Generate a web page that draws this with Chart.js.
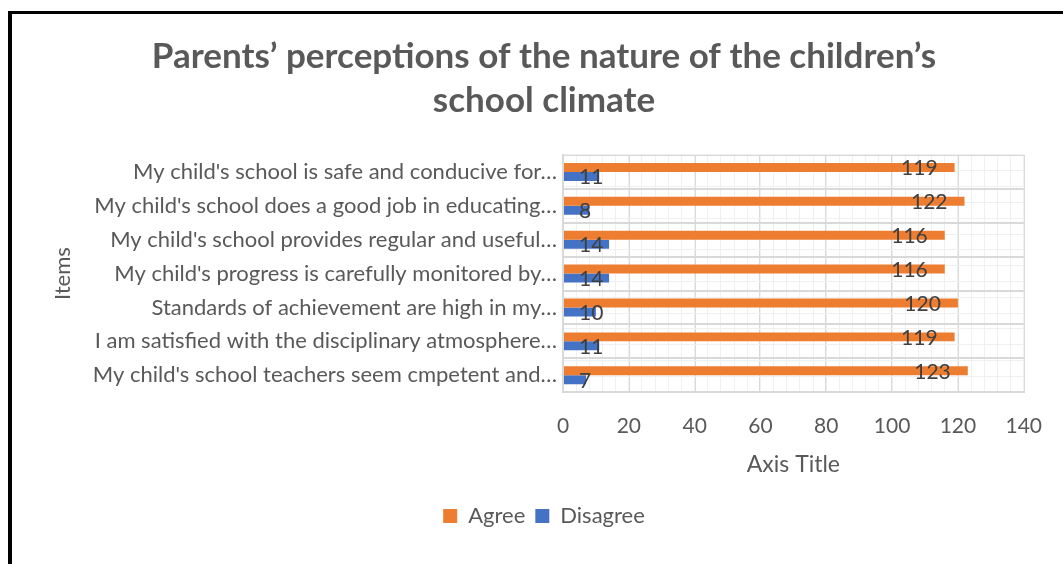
<!DOCTYPE html>
<html>
<head>
<meta charset="utf-8">
<script src="https://cdn.jsdelivr.net/npm/chart.js@4.4.0/dist/chart.umd.min.js"></script>
<style>
  html, body { margin: 0; padding: 0; background: #fff; overflow: hidden; }
  #frame {
    position: absolute; left: 8px; top: 11px; right: 0; bottom: 0;
    border-top: 3px solid #000; border-left: 4px solid #000;
  }
  canvas { display: block; }
</style>
</head>
<body>
<div id="frame"><canvas id="schoolChart" width="1051" height="550"></canvas></div>
<script>
const items = [
  "My child's school is safe and conducive for…",
  "My child's school does a good job in educating…",
  "My child's school provides regular and useful…",
  "My child's progress is carefully monitored by…",
  "Standards of achievement are high in my…",
  "I am satisfied with the disciplinary atmosphere…",
  "My child's school teachers seem cmpetent and…"
];
const agree = [119, 122, 116, 116, 120, 119, 123];
const disagree = [11, 8, 14, 14, 10, 11, 7];
const xTicks = [0, 20, 40, 60, 80, 100, 120, 140];

const FONT = 'Lato';
const TEXT = '#595959';

// value labels like excel's "inside end" ones
const valueLabels = {
  id: 'valueLabels',
  afterDatasetsDraw(chart) {
    const ctx = chart.ctx;
    ctx.save();
    ctx.font = '21px ' + FONT;
    ctx.fillStyle = '#404040';
    ctx.textBaseline = 'middle';
    chart.data.datasets.forEach((ds, i) => {
      const meta = chart.getDatasetMeta(i);
      meta.data.forEach((bar, j) => {
        const txt = String(ds.data[j]);
        if (i === 0) {
          ctx.textAlign = 'right';
          ctx.fillText(txt, bar.x - 17, bar.y + 1);
        } else {
          ctx.textAlign = 'left';
          ctx.fillText(txt, bar.base + 15, bar.y + 1);
        }
      });
    });
    ctx.restore();
  }
};

const ctx = document.getElementById('schoolChart').getContext('2d');
new Chart(ctx, {
  type: 'bar',
  data: {
    labels: items,
    datasets: [
      { label: 'Agree', data: agree, backgroundColor: '#ED7D31', categoryPercentage: 0.53, barPercentage: 1 },
      { label: 'Disagree', data: disagree, backgroundColor: '#4472C4', categoryPercentage: 0.53, barPercentage: 1 }
    ]
  },
  options: {
    indexAxis: 'y',
    responsive: false,
    animation: false,
    layout: { padding: { left: 28, right: 15, top: 0, bottom: 27 } },
    plugins: {
      title: {
        display: true,
        text: ["Parents’ perceptions of the nature of the children’s", 'school climate'],
        color: TEXT,
        font: { family: FONT, size: 35, weight: 'bold', lineHeight: 1.257 },
        padding: { top: 21, bottom: 32 }
      },
      legend: {
        position: 'bottom',
        labels: {
          color: TEXT,
          font: { family: FONT, size: 22 },
          boxWidth: 14, boxHeight: 14,
          padding: 10
        }
      },
      tooltip: { enabled: false }
    },
    scales: {
      x: {
        type: 'linear',
        min: 0, max: 140,
        afterBuildTicks: s => { s.ticks = xTicks.map(v => ({ value: v })); },
        grid: { color: '#d9d9d9', lineWidth: 2, drawTicks: false },
        border: { color: '#d9d9d9', width: 2 },
        ticks: { color: TEXT, font: { family: FONT, size: 21 }, padding: 21 },
        title: {
          display: true, text: 'Axis Title', color: TEXT,
          font: { family: FONT, size: 23 },
          padding: { top: -9, bottom: 17 }
        }
      },
      xMinor: {
        type: 'linear', position: 'bottom', axis: 'x',
        min: 0, max: 140, z: -1,
        ticks: { display: false, stepSize: 4 },
        grid: { color: '#f0f0f0', lineWidth: 1, drawTicks: false },
        border: { display: false }
      },
      y: {
        type: 'category',
        afterFit: s => { s.width = 523; },
        grid: { color: '#d9d9d9', lineWidth: 2, drawTicks: false },
        border: { color: '#d9d9d9', width: 2 },
        ticks: { color: TEXT, font: { family: FONT, size: 22 }, padding: 6 },
        title: {
          display: true, text: 'Items', color: TEXT,
          font: { family: FONT, size: 22 },
          padding: { top: 10, bottom: 0 }
        }
      },
      yMinor: {
        type: 'linear', position: 'right', axis: 'y',
        min: 0, max: 7, z: -1,
        ticks: { display: false, stepSize: 0.5 },
        grid: { color: '#f0f0f0', lineWidth: 1, drawTicks: false },
        border: { display: false }
      }
    }
  },
  plugins: [valueLabels]
});
</script>
</body>
</html>
